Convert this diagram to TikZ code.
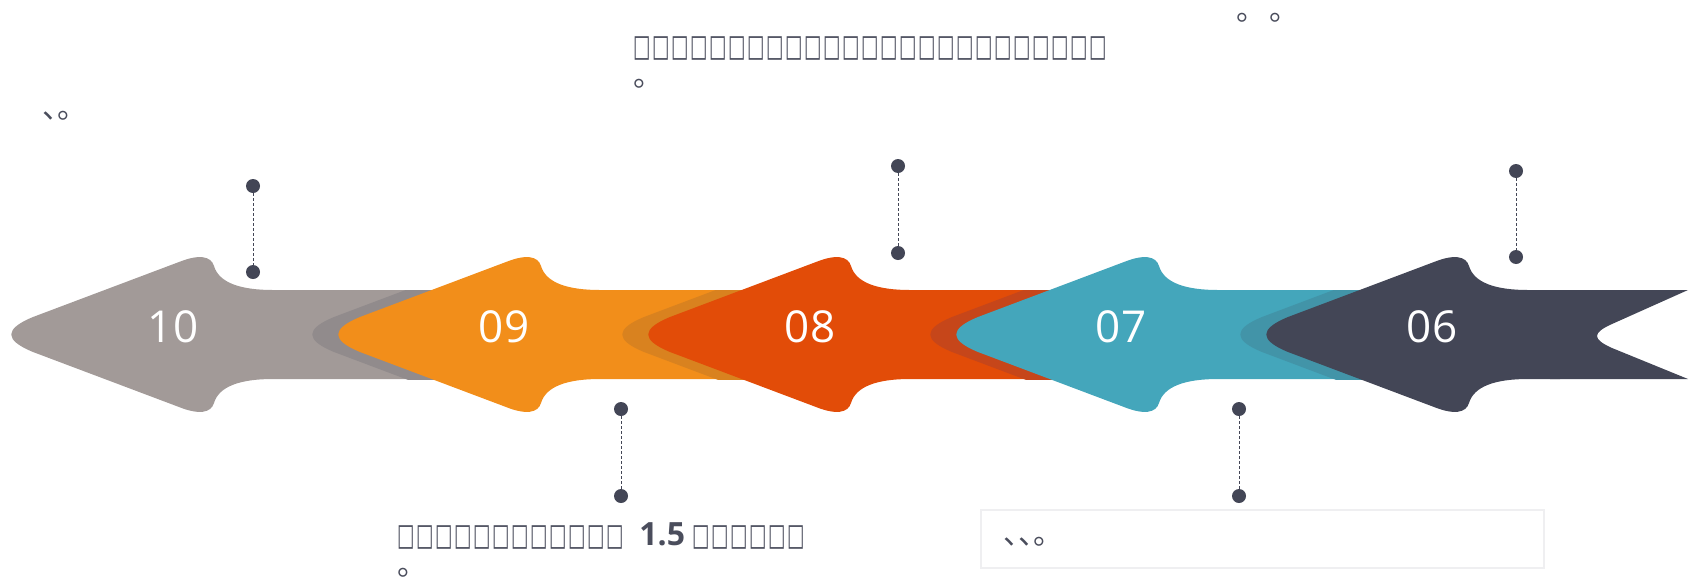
\documentclass[tikz,border=0pt]{standalone}
\usepackage{fontspec}
\setmainfont{Open Sans}
\newfontfamily\cjk[RawFeature=+palt]{Noto Sans CJK SC}
\newfontfamily\tofufont{DejaVu Sans}
\usetikzlibrary{calc}
\definecolor{GreyClr}{HTML}{A29A98}
\definecolor{GreyShd}{HTML}{918B8C}
\definecolor{OrangeClr}{HTML}{F28E1A}
\definecolor{OrangeShd}{HTML}{D9821F}
\definecolor{RedClr}{HTML}{E24C08}
\definecolor{RedShd}{HTML}{C6461A}
\definecolor{TealClr}{HTML}{44A6BB}
\definecolor{TealShd}{HTML}{4294A8}
\definecolor{DarkClr}{HTML}{434656}
\definecolor{TextClr}{HTML}{4A4D5C}
\definecolor{BoxClr}{HTML}{EFEFF1}

% one arrow head with its band: #1 tip x, #2 band end x
\newcommand\headpath[2]{(#1+262,290) -- (#2,290) -- (#2,379) -- (#1+262,379)
 .. controls (#1+230,379) and (#1+208,386) .. (#1+203,403)
 .. controls (#1+200,413) and (#1+188,415) .. (#1+168,407)
 -- (#1+22,352)
 .. controls (#1-7,340) and (#1-7,329) .. (#1+22,317)
 -- (#1+168,262)
 .. controls (#1+188,254) and (#1+200,256) .. (#1+203,266)
 .. controls (#1+208,283) and (#1+230,290) .. (#1+262,290) -- cycle}
\newcommand\tofus[1]{\foreach \k in {1,...,#1}{\makebox[9.5pt][l]{\fontsize{14}{14}\selectfont\tofufont\scalebox{0.66}[1.1]{\char"25A1}}}}

\begin{document}
\begin{tikzpicture}[x=0.5pt,y=-0.5pt,
  num/.style={text=white,font=\fontsize{22}{26}\selectfont,inner sep=0pt},
  dot/.style={circle,fill=DarkClr,minimum size=7pt,inner sep=0pt},
  leader/.style={DarkClr,line width=0.5pt,dash pattern=on 1.5pt off 1pt},
  txt/.style={text=TextClr,font=\fontsize{15}{15}\selectfont,inner sep=0pt,anchor=base west,align=left}]
\useasboundingbox (0,0) rectangle (1690,584);

% arrows, from left to right
\fill[GreyClr] \headpath{11}{450};
\begin{scope}
\clip (200,290) rectangle (600,379);
\fill[GreyShd] \headpath{312}{574};
\end{scope}
\fill[OrangeClr] \headpath{338}{760};
\begin{scope}
\clip (540,290) rectangle (910,379);
\fill[OrangeShd] \headpath{622}{884};
\end{scope}
\fill[RedClr] \headpath{648}{1070};
\begin{scope}
\clip (850,290) rectangle (1218,379);
\fill[RedShd] \headpath{930}{1192};
\end{scope}
\fill[TealClr] \headpath{956}{1380};
\begin{scope}
\clip (1160,290) rectangle (1528,379);
\fill[TealShd] \headpath{1240}{1502};
\end{scope}
\fill[DarkClr] \headpath{1266}{1560};
\fill[DarkClr] (1550,290) -- (1688,290) -- (1612,324)
 .. controls (1592,333) and (1592,339) .. (1612,348) -- (1688,379) -- (1550,379) -- cycle;

% numbers
\node[num] (n10) at (173,327) {10};
\node[num] (n09) at (504,327) {09};
\node[num] (n08) at (810,327) {08};
\node[num] (n07) at (1121,327) {07};
\node[num] (n06) at (1432,327) {06};

% leaders
\node[dot] (t10a) at (253,186) {};
\node[dot] (t10b) at (253,272) {};
\node[dot] (b09a) at (621,409) {};
\node[dot] (b09b) at (621,496) {};
\node[dot] (t08a) at (898,166) {};
\node[dot] (t08b) at (898,253) {};
\node[dot] (b07a) at (1239,409) {};
\node[dot] (b07b) at (1239,496) {};
\node[dot] (t06a) at (1516,171) {};
\node[dot] (t06b) at (1516,257) {};
\draw[leader] (t10a) -- (t10b);
\draw[leader] (b09a) -- (b09b);
\draw[leader] (t08a) -- (t08b);
\draw[leader] (b07a) -- (b07b);
\draw[leader] (t06a) -- (t06b);

% texts
\node[txt] (x10) at (42,118) {{\cjk 、。}};
\node[txt] (x08) at (633,86) {\tofus{25}\\{\cjk 。}};
\node[txt] (x06) at (1236,20) {{\cjk 。}\hspace{9pt}{\cjk 。}};
\node[txt] (x09) at (397,575) {\tofus{12}\hspace{7pt}{\fontsize{16}{15}\selectfont\bfseries 1.5} \tofus{6}\\{\cjk 。}};
\draw[BoxClr,line width=1pt] (981,510) rectangle (1544,568);
\node[txt] (x07) at (1003,544) {{\cjk 、、。}};
\end{tikzpicture}
\end{document}
